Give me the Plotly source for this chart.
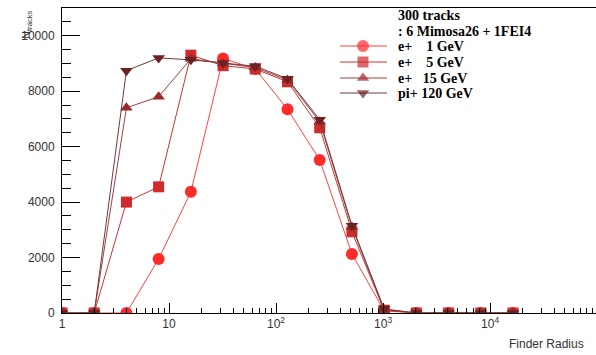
import plotly.graph_objects as go

radius = [1, 2, 4, 8, 16, 32, 64, 128, 256, 512, 1024, 2048, 4096, 8192, 16384]
e1 = [0, 0, 0, 1950, 4370, 9180, 8800, 7350, 5520, 2130, 80, 0, 0, 0, 0]
e5 = [0, 0, 4000, 4550, 9300, 8920, 8800, 8340, 6680, 2930, 100, 0, 0, 0, 0]
e15 = [0, 0, 7400, 7800, 9170, 9000, 8850, 8400, 6900, 3100, 120, 0, 0, 0, 0]
pi120 = [0, 0, 8740, 9200, 9130, 9020, 8900, 8450, 6970, 3150, 150, 0, 0, 0, 0]

names = ["e+    1 GeV", "e+    5 GeV", "e+   15 GeV", "pi+ 120 GeV"]
values = [e1, e5, e15, pi120]
marker_colors = ["#ff2a2a", "#d02a2a", "#9a2a2a", "#6a2222"]
line_colors = ["#ff4040", "#cc3333", "#a04040", "#6e3a3a"]
symbols = ["circle", "square", "triangle-up", "triangle-down"]
sizes = [12, 11, 11, 11]

header_lines = ["300 tracks", ": 6 Mimosa26 + 1FEI4"]

fig = go.Figure()
for name, vals, mc, lc, sym, sz in zip(names, values, marker_colors, line_colors, symbols, sizes):
    fig.add_trace(go.Scatter(
        x=radius, y=vals, name=name, mode="lines+markers",
        line=dict(color=lc, width=1),
        marker=dict(color=mc, symbol=sym, size=sz, line=dict(width=0)),
        showlegend=False,
    ))

# legend drawn in a hidden pixel-unit overlay axis
leg_rows = [46, 62, 78, 93]
for row, name, mc, lc, sym, sz in zip(leg_rows, names, marker_colors, line_colors, symbols, sizes):
    fig.add_trace(go.Scatter(
        x=[340, 363, 387], y=[row, row, row], mode="lines+markers",
        line=dict(color=lc, width=1),
        marker=dict(color=mc, symbol=sym, size=[0, sz, 0], line=dict(width=0)),
        xaxis="x2", yaxis="y2", showlegend=False, hoverinfo="skip",
    ))
    fig.add_annotation(text="<b>" + name.replace(" ", "&nbsp;") + "</b>", xref="x2", yref="y2",
                       x=396, y=row, xanchor="left", yanchor="middle", showarrow=False,
                       font=dict(family="Liberation Serif", size=14, color="black"))

for row, txt in zip([15, 31], header_lines):
    fig.add_annotation(text="<b>" + txt + "</b>", xref="x2", yref="y2",
                       x=396, y=row, xanchor="left", yanchor="middle", showarrow=False,
                       font=dict(family="Liberation Serif", size=14, color="black"))

major_x = [1, 10, 100, 1000, 10000, 100000]
major_x_text = ["1", "10", "10<sup>2</sup>", "10<sup>3</sup>", "10<sup>4</sup>", "10<sup>5</sup>"]
minor_x = [k * 10 ** d for d in range(5) for k in range(2, 10)]
major_y = [0, 2000, 4000, 6000, 8000, 10000]

fig.update_layout(
    width=596, height=355,
    margin=dict(l=62, r=0, t=8, b=42),
    paper_bgcolor="white", plot_bgcolor="white",
    font=dict(family="Liberation Sans, Arial", size=12, color="#333"),
    showlegend=False,
    xaxis=dict(
        type="log", range=[0, 4.99],
        showline=True, linecolor="black", linewidth=1, mirror=True,
        showgrid=False, zeroline=False,
        ticks="inside", ticklen=10, tickcolor="black", tickwidth=1,
        tickmode="array", tickvals=major_x, ticktext=major_x_text,
        tickfont=dict(size=12, color="#333"),
        minor=dict(tickmode="array", tickvals=minor_x, ticks="inside",
                   ticklen=5, tickcolor="black", showgrid=False),
    ),
    yaxis=dict(
        range=[0, 11000],
        showline=True, linecolor="black", linewidth=1,
        showgrid=False, zeroline=False,
        ticks="inside", ticklen=18, tickcolor="black", tickwidth=1,
        tickmode="array", tickvals=major_y, ticktext=[str(v) for v in major_y],
        tickfont=dict(size=12, color="#333"),
        ticklabelstandoff=4,
        minor=dict(dtick=500, ticks="inside", ticklen=9, tickcolor="black",
                   showgrid=False),
    ),
    xaxis2=dict(overlaying="x", anchor="y2", range=[62, 596], visible=False, fixedrange=True),
    yaxis2=dict(overlaying="y", anchor="x2", range=[313, 8], visible=False, fixedrange=True),
)

fig.add_annotation(text="N<sub>tracks</sub>", xref="paper", yref="paper",
                   x=(27 - 62) / 534, y=1 - (25 - 8) / 305, xanchor="center", yanchor="middle",
                   textangle=-90, showarrow=False,
                   font=dict(family="Liberation Sans", size=11, color="#333"))
fig.add_annotation(text="Finder Radius", xref="paper", yref="paper",
                   x=(586 - 62) / 534, y=-(344 - 313) / 305, xanchor="right", yanchor="middle",
                   showarrow=False, font=dict(family="Liberation Sans", size=12, color="#333"))

fig.write_html("out.html")
